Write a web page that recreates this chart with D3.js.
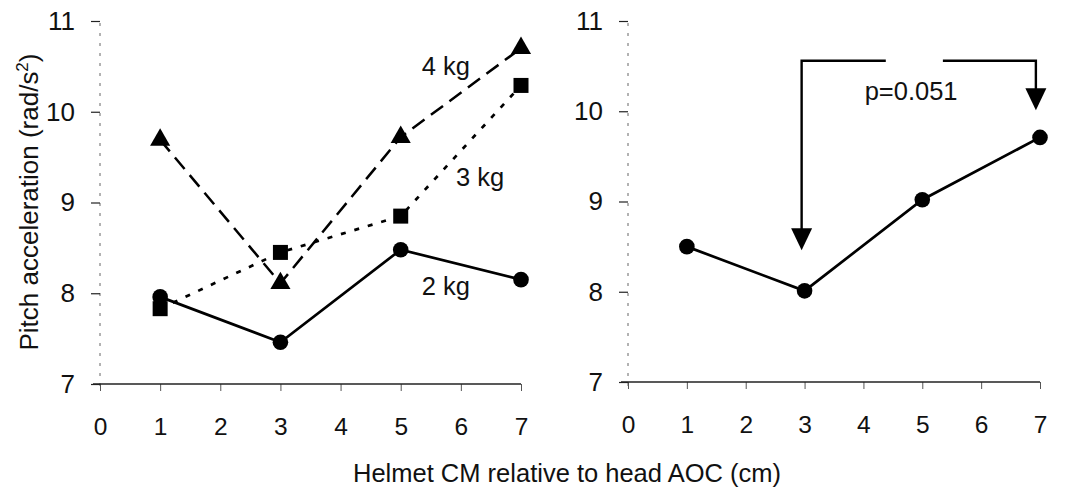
<!DOCTYPE html>
<html>
<head>
<meta charset="utf-8">
<script src="https://cdn.jsdelivr.net/npm/d3@7"></script>
<style>
  html, body { margin: 0; padding: 0; background: #fff; }
  svg { display: block; font-family: "Liberation Sans", Arial, sans-serif; }
</style>
</head>
<body>
<svg id="chart" width="1065" height="492"></svg>
<script>
// ---------- data ----------
const xPositions = [1, 3, 5, 7];
const xTicks = [0, 1, 2, 3, 4, 5, 6, 7];
const yTicks = [7, 8, 9, 10, 11];
const seriesNames = ["2 kg", "3 kg", "4 kg"];
const values2kg = [7.96, 7.46, 8.48, 8.15];
const values3kg = [7.83, 8.45, 8.85, 10.29];
const values4kg = [9.69, 8.11, 9.72, 10.70];
const valuesRight = [8.50, 8.01, 9.02, 9.71];
const pLabel = "p=0.051";
const xTitle = "Helmet CM relative to head AOC (cm)";

const svg = d3.select("#chart");
const YFONT = 26, XFONT = 24.5, LFONT = 25.5;

function makePanel(xRange, yRange) {
  const x = d3.scaleLinear().domain([0, 7]).range(xRange);
  const y = d3.scaleLinear().domain([7, 11]).range(yRange);
  const g = svg.append("g");

  // faint dotted y axis line
  g.append("line")
    .attr("x1", x(0)).attr("x2", x(0))
    .attr("y1", y(11) + 2).attr("y2", y(7) + 8)
    .attr("stroke", "#666").attr("stroke-width", 1)
    .attr("stroke-dasharray", "3,7");

  // y axis ticks + labels
  const yAxis = d3.axisLeft(y).tickValues(yTicks).tickSize(9).tickPadding(16).tickFormat(d3.format("d"));
  const ya = g.append("g").attr("transform", `translate(${x(0)},0)`).call(yAxis);
  ya.select(".domain").remove();
  ya.selectAll(".tick line").attr("stroke", "#222").attr("stroke-width", 1.2);
  ya.selectAll(".tick text").attr("font-size", YFONT).attr("fill", "#111")
    .attr("font-family", "Liberation Sans, Arial, sans-serif");

  // x axis
  const xAxis = d3.axisBottom(x).tickValues(xTicks).tickSize(7).tickPadding(27).tickFormat(d3.format("d"));
  const xa = g.append("g").attr("transform", `translate(0,${y(7)})`).call(xAxis);
  xa.select(".domain").remove();
  xa.selectAll(".tick line").attr("stroke", "#555").attr("stroke-width", 1);
  xa.selectAll(".tick text").attr("font-size", XFONT).attr("fill", "#111")
    .attr("font-family", "Liberation Sans, Arial, sans-serif");
  g.append("line")
    .attr("x1", x(0) - 7).attr("x2", x(7))
    .attr("y1", y(7)).attr("y2", y(7))
    .attr("stroke", "#222").attr("stroke-width", 1.6);

  return { g, x, y };
}

const L = makePanel([100, 521], [384, 21]);
const R = makePanel([628, 1040], [382, 21]);

function drawLine(P, vals, dash, width) {
  const line = d3.line().x((d, i) => P.x(xPositions[i])).y(d => P.y(d));
  P.g.append("path").datum(vals)
    .attr("d", line).attr("fill", "none")
    .attr("stroke", "#000").attr("stroke-width", width)
    .attr("stroke-dasharray", dash);
}

// left panel lines
drawLine(L, values4kg, "15,8", 2.5);
drawLine(L, values3kg, "5,9", 2.7);
drawLine(L, values2kg, null, 2.7);

// markers
const sym = (type, size) => d3.symbol().type(type).size(size)();
L.g.selectAll(".tri").data(values4kg).join("path")
  .attr("transform", (d, i) => `translate(${L.x(xPositions[i])},${L.y(d)})`)
  .attr("d", sym(d3.symbolTriangle, 175)).attr("fill", "#000");
L.g.selectAll(".sq").data(values3kg).join("rect")
  .attr("x", (d, i) => L.x(xPositions[i]) - 7.5).attr("y", d => L.y(d) - 7.5)
  .attr("width", 15).attr("height", 15).attr("fill", "#000");
L.g.selectAll(".ci").data(values2kg).join("circle")
  .attr("cx", (d, i) => L.x(xPositions[i])).attr("cy", d => L.y(d))
  .attr("r", 7.8).attr("fill", "#000");

// series labels (positioned in data units)
const seriesLabelPos = [
  { name: seriesNames[0], x: 5.75, y: 7.98 },
  { name: seriesNames[1], x: 6.32, y: 9.18 },
  { name: seriesNames[2], x: 5.75, y: 10.40 }
];
L.g.selectAll(".slab").data(seriesLabelPos).join("text")
  .attr("x", d => L.x(d.x)).attr("y", d => L.y(d.y))
  .attr("text-anchor", "middle").attr("font-size", LFONT).attr("fill", "#111")
  .text(d => d.name);

// right panel
drawLine(R, valuesRight, null, 2.7);
R.g.selectAll(".ci").data(valuesRight).join("circle")
  .attr("cx", (d, i) => R.x(xPositions[i])).attr("cy", d => R.y(d))
  .attr("r", 7.8).attr("fill", "#000");

// annotation bracket
const bracketY = 10.56;
const leftTip = 8.46, rightTip = 10.01;
const ax1 = 2.95, ax2 = 6.93;
const gapA = 4.38, gapB = 5.35;
const ann = R.g.append("g").attr("stroke", "#000").attr("stroke-width", 2.4).attr("fill", "none");
ann.append("path").attr("d",
  `M${R.x(ax1)},${R.y(leftTip) - 20} L${R.x(ax1)},${R.y(bracketY)} L${R.x(gapA)},${R.y(bracketY)}`);
ann.append("path").attr("d",
  `M${R.x(gapB)},${R.y(bracketY)} L${R.x(ax2)},${R.y(bracketY)} L${R.x(ax2)},${R.y(rightTip) - 20}`);
function arrowHead(xv, tipv) {
  const tx = R.x(xv), ty = R.y(tipv);
  R.g.append("path")
    .attr("d", `M${tx - 10.5},${ty - 22} L${tx + 10.5},${ty - 22} L${tx},${ty} Z`)
    .attr("fill", "#000");
}
arrowHead(ax1, leftTip);
arrowHead(ax2, rightTip);
R.g.append("text")
  .attr("x", R.x(4.81)).attr("y", R.y(10.12))
  .attr("text-anchor", "middle").attr("font-size", LFONT).attr("fill", "#111")
  .text(pLabel);

// axis titles
svg.append("text")
  .attr("x", 567).attr("y", 482)
  .attr("text-anchor", "middle").attr("font-size", 25.5).attr("fill", "#111")
  .text(xTitle);

const yt = svg.append("text")
  .attr("transform", "translate(38,202) rotate(-90)")
  .attr("text-anchor", "middle").attr("font-size", 26).attr("fill", "#111");
yt.append("tspan").text("Pitch acceleration (rad/s");
yt.append("tspan").attr("font-size", 17).attr("dy", -10).text("2");
yt.append("tspan").attr("dy", 10).text(")");
</script>
</body>
</html>
